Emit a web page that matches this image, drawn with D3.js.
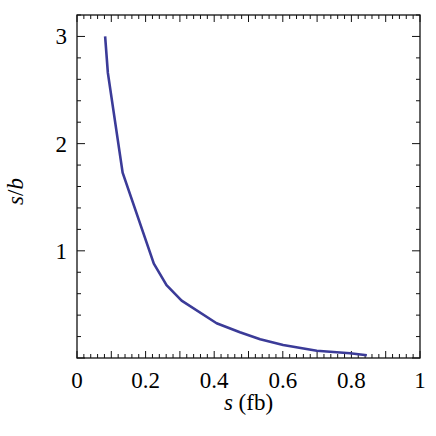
<!DOCTYPE html>
<html>
<head>
  <meta charset="utf-8">
  <style type="text/css">
    body { margin: 0; background: #fff; }
    .frame { fill: none; stroke: #111; stroke-width: 1.3px; }
    .ticks line { stroke: #111; stroke-width: 1px; }
    .curve { fill: none; stroke: #3b3b98; stroke-width: 2.6px; stroke-linejoin: round; }
  </style>
</head>
<body>
  <script src="https://d3js.org/d3.v7.min.js"></script>
  <script>
  // values
  var sValues  = [0.082, 0.090, 0.133, 0.224, 0.261, 0.305, 0.407, 0.475, 0.534, 0.601, 0.699, 0.796, 0.845];
  var sbValues = [3.00, 2.66, 1.73, 0.88, 0.68, 0.535, 0.324, 0.24, 0.175, 0.121, 0.068, 0.044, 0.025];
  var xTickLabels = [0, 0.2, 0.4, 0.6, 0.8, 1];
  var yTickLabels = [1, 2, 3];

  var margin = {top: 15, right: 16, bottom: 78, left: 77};
  var plotW = 436 - margin.left - margin.right;
  var plotH = 436 - margin.top - margin.bottom;

  // scales in page coordinates, so text can sit directly in the svg
  var x = d3.scaleLinear().domain([0, 1]).range([margin.left, margin.left + plotW]);
  var y = d3.scaleLinear().domain([0, 3.2]).range([margin.top + plotH, margin.top]);

  var svg = d3.select("body").append("svg")
    .attr("width", 436)
    .attr("height", 436);

  // inward ticks on all four sides
  var xMinor = d3.range(0, 51).map(function(i) { return i / 50; });
  var yMinor = d3.range(0, 17).map(function(i) { return i / 5; });

  var ticks = svg.append("g").attr("class", "ticks");
  var yBot = y(0), yTop = y(3.2), xLeft = x(0), xRight = x(1);

  xMinor.forEach(function(v, i) {
    var len = (i % 5 === 0) ? 7 : 4;
    ticks.append("line")
      .attr("x1", x(v)).attr("x2", x(v))
      .attr("y1", yBot).attr("y2", yBot - len);
    ticks.append("line")
      .attr("x1", x(v)).attr("x2", x(v))
      .attr("y1", yTop).attr("y2", yTop + len);
  });

  yMinor.forEach(function(v, i) {
    var len = (i % 5 === 0) ? 8 : 4;
    ticks.append("line")
      .attr("y1", y(v)).attr("y2", y(v))
      .attr("x1", xLeft).attr("x2", xLeft + len);
    ticks.append("line")
      .attr("y1", y(v)).attr("y2", y(v))
      .attr("x1", xRight).attr("x2", xRight - len);
  });

  svg.append("rect")
    .attr("class", "frame")
    .attr("x", xLeft).attr("y", yTop)
    .attr("width", plotW).attr("height", plotH);

  // curve
  var line = d3.line()
    .x(function(d) { return x(d[0]); })
    .y(function(d) { return y(d[1]); });

  svg.append("path")
    .datum(d3.zip(sValues, sbValues))
    .attr("class", "curve")
    .attr("d", line);

  // tick labels
  svg.selectAll(".xlab")
    .data(xTickLabels)
  .enter().append("text")
    .style("font-family", "'Liberation Serif'")
    .style("font-size", "23px")
    .attr("x", function(d) { return x(d); })
    .attr("y", yBot + 30)
    .attr("text-anchor", "middle")
    .text(function(d) { return d; });

  svg.selectAll(".ylab")
    .data(yTickLabels)
  .enter().append("text")
    .style("font-family", "'Liberation Serif'")
    .style("font-size", "23px")
    .attr("x", xLeft - 10)
    .attr("y", function(d) { return y(d) + 8; })
    .attr("text-anchor", "end")
    .text(function(d) { return d; });

  // axis titles
  var xt = svg.append("text")
    .style("font-family", "'Liberation Serif'")
    .style("font-size", "23px")
    .attr("x", (xLeft + xRight) / 2)
    .attr("y", yBot + 52)
    .attr("text-anchor", "middle");
  xt.append("tspan").style("font-style", "italic").text("s");
  xt.append("tspan").text(" (fb)");

  var yt = svg.append("text")
    .style("font-family", "'Liberation Serif'")
    .style("font-size", "23px")
    .attr("transform", "translate(" + (xLeft - 54) + "," + ((yTop + yBot) / 2 + 5) + ") rotate(-90)")
    .attr("text-anchor", "middle");
  yt.append("tspan").style("font-style", "italic").text("s");
  yt.append("tspan").text("/");
  yt.append("tspan").style("font-style", "italic").text("b");
  </script>
</body>
</html>
